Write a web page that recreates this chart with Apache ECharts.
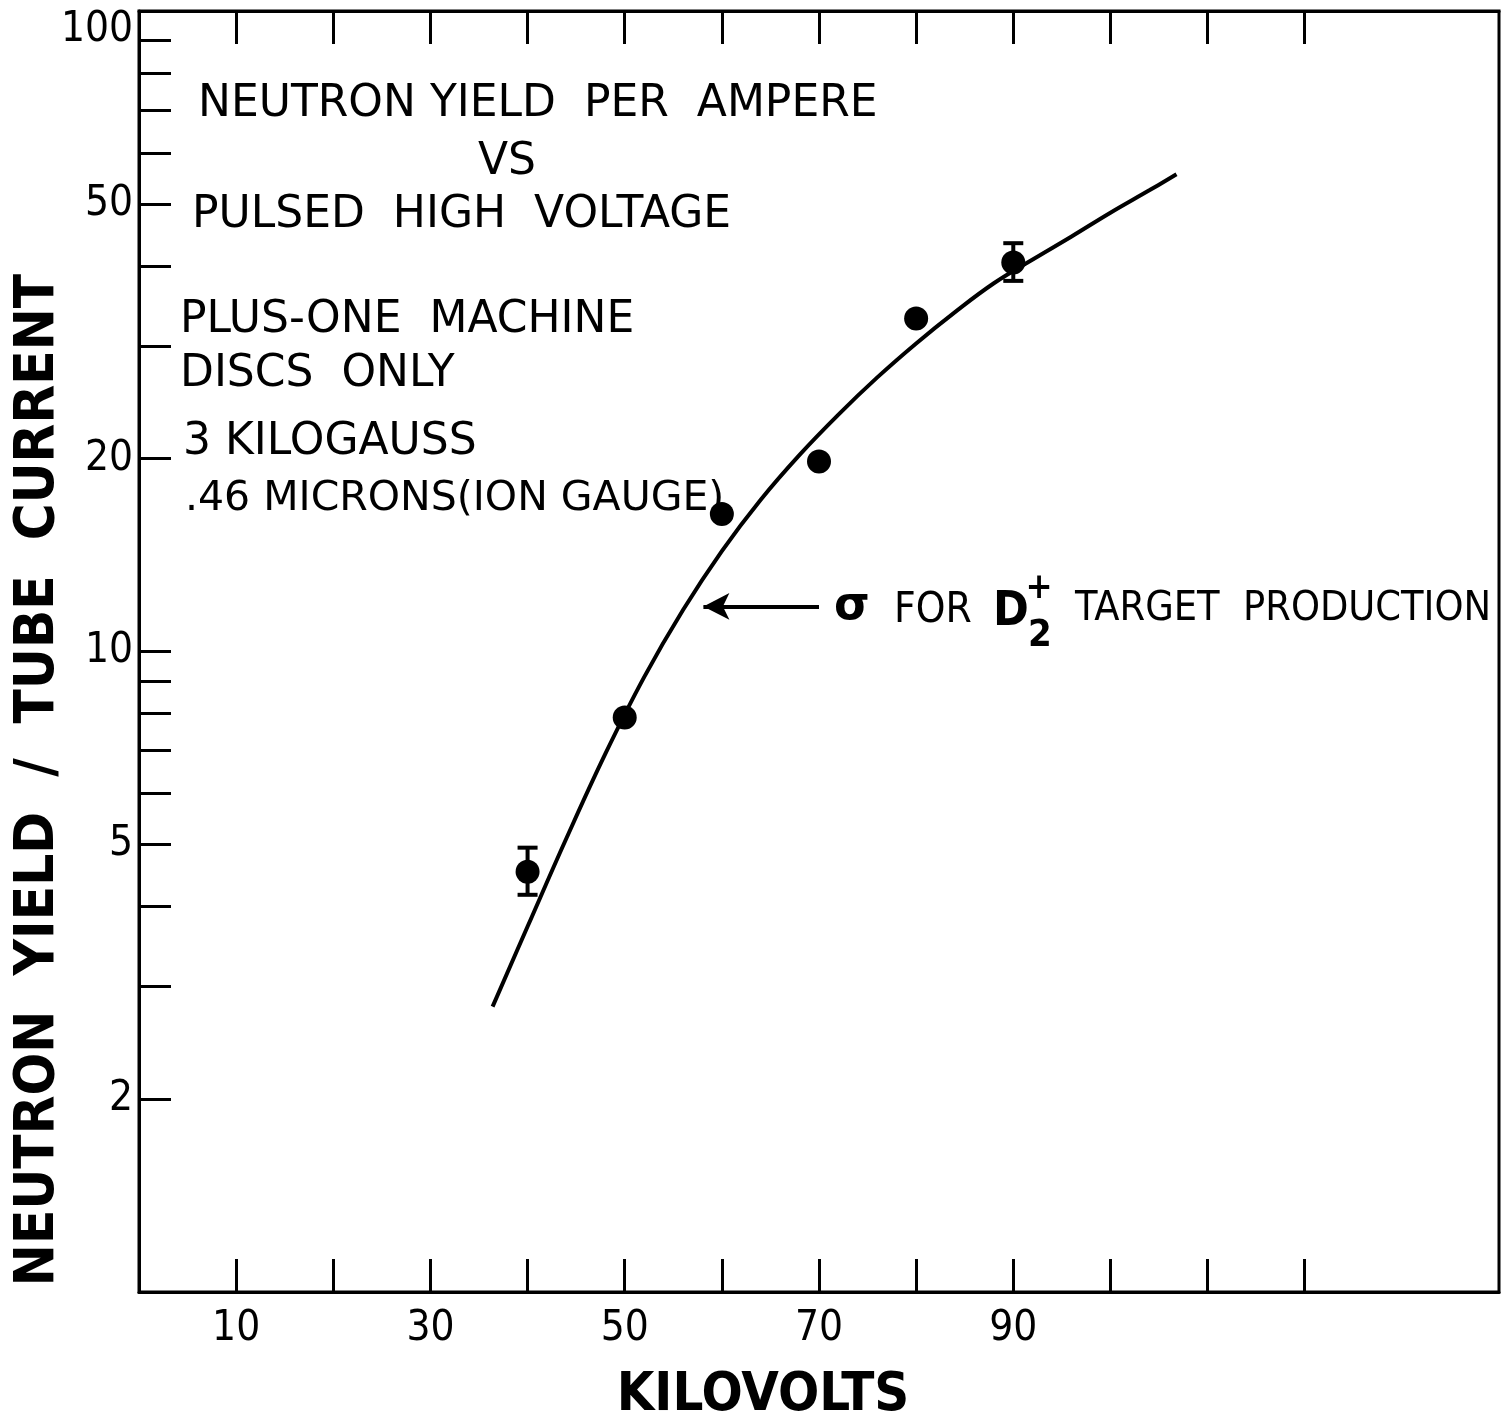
<!DOCTYPE html>
<html>
<head>
<meta charset="utf-8">
<script src="https://cdn.jsdelivr.net/npm/echarts@6/dist/echarts.min.js"></script>
<style>
html,body{margin:0;padding:0;background:#fff;}
#chart{width:1504px;height:1422px;}
</style>
</head>
<body>
<div id="chart"></div>
<script>
// ---- data ----
const kvTicks = [10, 20, 30, 40, 50, 60, 70, 80, 90, 100, 110, 120];
const kvLabels = [10, 30, 50, 70, 90];
const yieldTicks = [2, 3, 4, 5, 6, 7, 8, 9, 10, 20, 30, 40, 50, 60, 70, 80, 90, 100];
const yieldLabels = [2, 5, 10, 20, 50, 100];

const pointKV = [40, 50, 60, 70, 80, 90];
const pointYield = [4.53, 7.89, 16.4, 19.8, 33.1, 40.5];

const errKV = [40, 90];
const errLow = [4.17, 37.9];
const errHigh = [4.94, 43.4];

const curveKV = [36.4, 40, 44, 48, 52, 56, 60, 64, 68, 72, 76, 80, 84, 88, 92, 96, 100, 104, 106.8];
const curveYield = [2.79, 3.72, 5.11, 6.92, 9.12, 11.61, 14.35, 17.26, 20.28, 23.44, 26.79, 30.27, 33.88, 37.58, 40.93, 44.46, 48.42, 52.48, 55.6];

const arrowKV = [70.0, 58.1];
const arrowYield = 11.76;

const titleLines = ['NEUTRON YIELD  PER  AMPERE', 'VS', 'PULSED  HIGH  VOLTAGE'];
const noteLines = ['PLUS-ONE  MACHINE', 'DISCS  ONLY', '3 KILOGAUSS', '.46 MICRONS(ION GAUGE)'];
const xTitle = 'KILOVOLTS';
const yTitle = 'NEUTRON  YIELD  /  TUBE  CURRENT';

// ---- chart ----
const NARROW = '"Liberation Sans Narrow", "DejaVu Sans Condensed", sans-serif';
const LETTER = '"DejaVu Sans", sans-serif';
const COND = '"DejaVu Sans Condensed", "DejaVu Sans", sans-serif';

const chart = echarts.init(document.getElementById('chart'), null, {renderer: 'canvas'});

const curveData = curveKV.map((k, i) => [k, curveYield[i]]);
const pointData = pointKV.map((k, i) => [k, pointYield[i]]);
const errData = errKV.map((k, i) => [k, errLow[i], errHigh[i]]);

function txt(x, y, text, font, align) {
  return {type: 'text', x: x, y: y, style: {text: text, font: font, fill: '#000', align: align || 'left', verticalAlign: 'middle'}};
}

const option = {
  backgroundColor: '#fff',
  animation: false,
  grid: {left: 139, right: 5, top: 11, bottom: 130, show: true, borderColor: '#000', borderWidth: 3, backgroundColor: 'transparent'},
  xAxis: [{
    type: 'value', min: 0, max: 140, position: 'bottom',
    splitLine: {show: false},
    axisLine: {lineStyle: {color: '#000', width: 3}},
    axisTick: {inside: true, length: 33, lineStyle: {color: '#000', width: 3}, customValues: kvTicks},
    axisLabel: {customValues: kvLabels, color: '#000', fontFamily: NARROW, fontSize: 42, margin: 16}
  }, {
    type: 'value', min: 0, max: 140, position: 'top',
    splitLine: {show: false},
    axisLine: {lineStyle: {color: '#000', width: 3}},
    axisTick: {inside: true, length: 33, lineStyle: {color: '#000', width: 3}, customValues: kvTicks},
    axisLabel: {show: false}
  }],
  yAxis: {
    type: 'log', logBase: 10, min: 1, max: 100,
    splitLine: {show: false},
    axisLine: {lineStyle: {color: '#000', width: 3}},
    axisTick: {inside: true, length: 32, lineStyle: {color: '#000', width: 3}, customValues: yieldTicks},
    axisLabel: {
      customValues: yieldLabels, color: '#000', fontFamily: NARROW, fontSize: 42, margin: 6,
      formatter: v => (Math.abs(v - 100) < 1e-6 ? '{t|100}' : String(Math.round(v))),
      rich: {t: {padding: [38, 0, 0, 0], fontFamily: NARROW, fontSize: 42, color: '#000'}}
    }
  },
  series: [{
    type: 'line', name: 'curve', data: curveData, smooth: 0.4, showSymbol: false,
    lineStyle: {color: '#000', width: 4}, z: 3,
    markLine: {
      silent: true, symbol: ['none', 'arrow'], symbolSize: [20, 26],
      label: {show: false},
      lineStyle: {color: '#000', width: 4, type: 'solid'},
      data: [[{coord: [arrowKV[0], arrowYield]}, {coord: [arrowKV[1], arrowYield]}]]
    }
  }, {
    type: 'scatter', name: 'points', data: pointData, symbol: 'circle', symbolSize: 24,
    itemStyle: {color: '#000', opacity: 1}, z: 4
  }, {
    type: 'custom', name: 'errors', data: errData, z: 4,
    renderItem: function (params, api) {
      const x = api.value(0);
      const lo = api.coord([x, api.value(1)]);
      const hi = api.coord([x, api.value(2)]);
      const w = 10;
      const st = {stroke: '#000', lineWidth: 4};
      return {type: 'group', children: [
        {type: 'line', shape: {x1: lo[0], y1: lo[1], x2: hi[0], y2: hi[1]}, style: st},
        {type: 'line', shape: {x1: lo[0] - w, y1: lo[1], x2: lo[0] + w, y2: lo[1]}, style: st},
        {type: 'line', shape: {x1: hi[0] - w, y1: hi[1], x2: hi[0] + w, y2: hi[1]}, style: st}
      ]};
    }
  }],
  graphic: [
    txt(198, 105, titleLines[0], '44px ' + LETTER),
    txt(507, 163, titleLines[1], '44px ' + LETTER, 'center'),
    txt(192, 216, titleLines[2], '44px ' + LETTER),
    txt(180, 321, noteLines[0], '44px ' + LETTER),
    txt(180, 375, noteLines[1], '44px ' + LETTER),
    txt(183, 443, noteLines[2], '44px ' + LETTER),
    txt(185, 499, noteLines[3], '41px ' + LETTER),
    txt(834, 607, 'σ', 'bold 46px ' + LETTER),
    txt(894, 611, 'FOR', '42px ' + COND),
    txt(993, 613, 'D', 'bold 48px ' + COND),
    txt(1039, 589, '+', 'bold 36px ' + COND, 'center'),
    txt(1040, 636, '2', 'bold 38px ' + COND, 'center'),
    txt(1075, 609, 'TARGET  PRODUCTION', '41px ' + COND),
    txt(763, 1396, xTitle, 'bold 54px ' + COND, 'center'),
    {type: 'text', x: 38, y: 780, rotation: Math.PI / 2, style: {text: yTitle, font: 'bold 56px ' + COND, fill: '#000', align: 'center', verticalAlign: 'middle'}}
  ]
};
chart.setOption(option);
</script>
</body>
</html>
